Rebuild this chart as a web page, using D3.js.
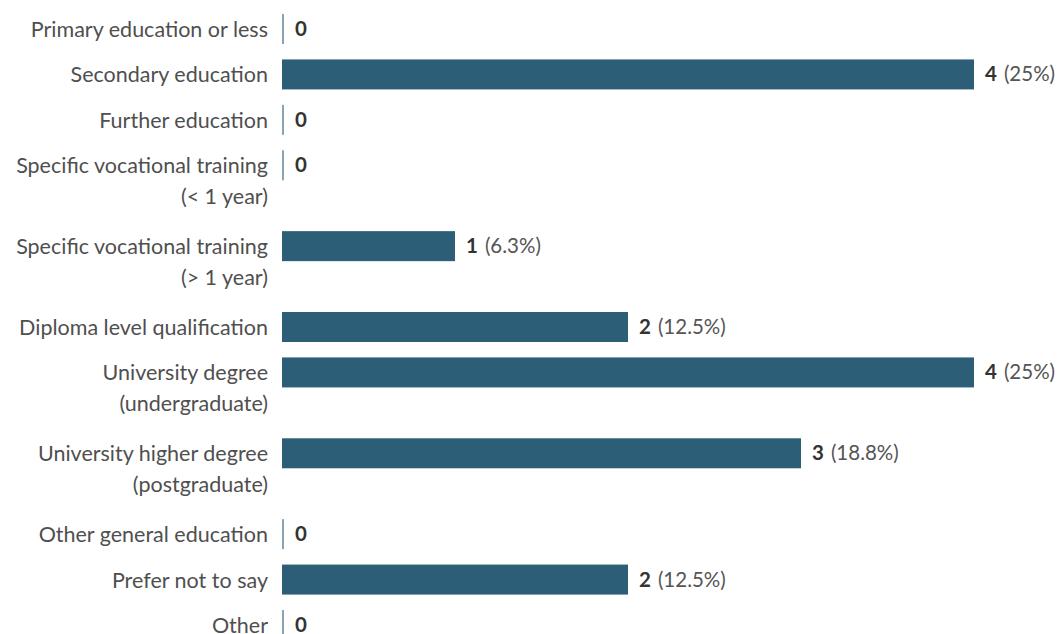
<!DOCTYPE html>
<html>
<head>
<meta charset="utf-8">
<script src="https://cdn.jsdelivr.net/npm/d3@7"></script>
<style>
  body { margin: 0; background: #fff; }
  svg text { font-family: Lato, "Open Sans", sans-serif; }
</style>
</head>
<body>
<div id="chart"></div>
<script>
// answers, counts and the percentage labels as printed next to each bar
const categories = [
  "Primary education or less",
  "Secondary education",
  "Further education",
  "Specific vocational training\n(< 1 year)",
  "Specific vocational training\n(> 1 year)",
  "Diploma level qualification",
  "University degree\n(undergraduate)",
  "University higher degree\n(postgraduate)",
  "Other general education",
  "Prefer not to say",
  "Other"
];
const counts = [0, 4, 0, 0, 1, 2, 4, 3, 0, 2, 0];
const pctLabels = ["", "25%", "", "", "6.3%", "12.5%", "25%", "18.8%", "", "12.5%", ""];

const width = 1060, height = 634;
const barH = 30;
const labelSize = 21.5;
const valueSize = 20.5;
const barColor = "#2c5f77";

const svg = d3.select("#chart").append("svg")
    .attr("width", width)
    .attr("height", height);

// rows with a wrapped label take more room than single line ones
let rows = [];
let pos = 0;
categories.forEach((c, i) => {
  let lines = c.split("\n");
  rows.push({label: lines, count: counts[i], pct: pctLabels[i], unit: pos});
  pos += lines.length > 1 ? 1.78 : 1;
});

let yScale = d3.scaleLinear()
    .domain([0, rows[rows.length - 1].unit])
    .range([14, 610]);

let xScale = d3.scaleLinear()
    .domain([0, d3.max(counts)])
    .range([282, 974]);

let row = svg.selectAll("g.row")
    .data(rows)
    .enter().append("g")
    .attr("class", "row")
    .attr("transform", d => "translate(0," + yScale(d.unit) + ")");

// category labels, right aligned next to the bars
row.append("text")
    .attr("text-anchor", "end")
    .attr("fill", "#4f4f4f")
    .style("font-size", labelSize + "px")
    .selectAll("tspan")
    .data(d => d.label)
    .enter().append("tspan")
    .attr("x", 268)
    .attr("y", (d, i) => barH / 2 + 8 + i * 31)
    .text(d => d);

row.append("rect")
    .attr("x", xScale(0))
    .attr("y", 0)
    .attr("height", barH)
    .attr("width", d => d.count > 0 ? xScale(d.count) - xScale(0) : 2)
    .attr("fill", d => d.count > 0 ? barColor : "#89a3b3");

let val = row.append("text")
    .attr("x", d => Math.max(xScale(d.count), xScale(0) + 2) + 11)
    .attr("y", barH / 2 + 7)
    .style("font-size", valueSize + "px");

val.append("tspan")
    .attr("font-weight", "bold")
    .attr("fill", "#333")
    .text(d => d.count);

val.filter(d => d.pct !== "")
    .append("tspan")
    .attr("dx", 7)
    .attr("fill", "#555")
    .text(d => "(" + d.pct + ")");
</script>
</body>
</html>
